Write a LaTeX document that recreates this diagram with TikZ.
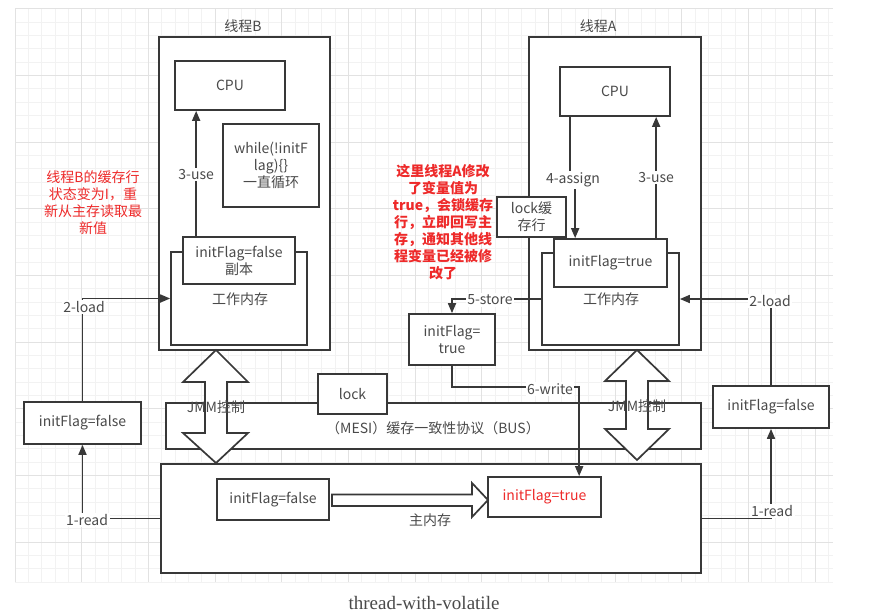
\documentclass[tikz,border=0pt]{standalone}
\usepackage{fontspec}
\setmainfont{Liberation Serif}
\newfontfamily\cjk{Noto Sans CJK SC}
\usetikzlibrary{arrows.meta,calc}
\definecolor{linec}{HTML}{383838}
\definecolor{textc}{HTML}{4A4A4A}
\definecolor{redc}{HTML}{EE2A2A}
\definecolor{gridminor}{HTML}{F2F2F2}
\definecolor{gridmajor}{HTML}{E2E2E2}
\tikzset{
  box/.style={draw=linec, line width=1.7pt, fill=white, inner sep=2pt, align=center,
    font=\cjk\fontsize{14}{17}\selectfont, text=textc},
  lbl/.style={font=\cjk\fontsize{14}{17}\selectfont, text=textc, inner sep=1.5pt, align=center},
  wlbl/.style={lbl, fill=white},
  conn/.style={draw=linec, line width=1.7pt, -{Triangle[length=10pt,width=8pt]}},
  plain/.style={draw=linec, line width=1.7pt},
  blockarrow/.style={draw=linec, line width=1.7pt, fill=white, line join=miter},
  redtxt/.style={font=\cjk\fontsize{14}{17}\selectfont, text=redc, align=center, inner sep=0pt},
}
\begin{document}
\begin{tikzpicture}[x=1pt,y=-1pt]
\useasboundingbox (0,0) rectangle (894,614);
\fill[white] (0,0) rectangle (894,614);
% grid
\foreach \i in {0,...,61} {
  \draw[gridminor, line width=0.6pt] ({15+\i*13.333},9) -- ({15+\i*13.333},582);
}
\foreach \j in {0,...,43} {
  \draw[gridminor, line width=0.6pt] (15,{8.67+\j*13.333}) -- (833,{8.67+\j*13.333});
}
\foreach \i in {0,...,12} {
  \draw[gridmajor, line width=0.8pt] ({15+\i*66.667},9) -- ({15+\i*66.667},582);
}
\foreach \j in {0,...,8} {
  \draw[gridmajor, line width=0.8pt] (15,{8.67+\j*66.667}) -- (833,{8.67+\j*66.667});
}

% ---------- Thread B ----------
\node[lbl] (titleB) at (243,26) {线程B};
\node[box, minimum width=171pt, minimum height=313pt] (threadB) at (244.5,193.5) {};
\node[box, minimum width=110pt, minimum height=49pt] (cpuB) at (230,85.5) {CPU};
\node[box, minimum width=96pt, minimum height=83pt] (whileB) at (271,165.5) {while(!initF\\lag)\{\}\\一直循环};
\node[box, minimum width=136pt, minimum height=93pt] (workB) at (239,298.5) {};
\node[lbl] (workBtxt) at (240,299) {工作内存};
\node[box, minimum width=112pt, minimum height=47pt] (initB) at (239,260.5) {initFlag=false\\副本};

% ---------- Thread A ----------
\node[lbl] (titleA) at (598,26) {线程A};
\node[box, minimum width=172pt, minimum height=313pt] (threadA) at (615,193.5) {};
\node[box, minimum width=110pt, minimum height=49pt] (cpuA) at (615,91.5) {CPU};
\node[box, minimum width=137pt, minimum height=92pt] (workA) at (610.5,299) {};
\node[lbl] (workAtxt) at (611,299) {工作内存};
\node[box, minimum width=113pt, minimum height=48pt] (initA) at (610.5,263) {initFlag=true};
\node[box, minimum width=69pt, minimum height=40pt] (lockA) at (531.5,217) {lock缓\\存行};

% ---------- side boxes ----------
\node[box, minimum width=117pt, minimum height=42pt] (leftFalse) at (82.5,423) {initFlag=false};
\node[box, minimum width=116pt, minimum height=42pt] (rightFalse) at (771,407) {initFlag=false};
\node[box, minimum width=86pt, minimum height=51pt] (midTrue) at (452,339.5) {initFlag=\\true};

% ---------- bus & main memory ----------
\node[box, minimum width=535pt, minimum height=46pt] (bus) at (433.5,426) {};
\node[lbl] (bustxt) at (433,428) {（MESI）缓存一致性协议（BUS）};
\node[box, minimum width=69pt, minimum height=40pt] (lockBus) at (352.5,394) {lock};
\node[box, minimum width=540pt, minimum height=109pt] (mainMem) at (431,518.5) {};
\node[lbl] (maintxt) at (430,520) {主内存};
\node[box, minimum width=112pt, minimum height=41pt] (mainFalse) at (273,499.5) {initFlag=false};
\node[box, minimum width=113pt, minimum height=40pt, text=redc] (mainTrue) at (544.5,497) {initFlag=true};

% block arrow false -> true
\draw[blockarrow] (332,494.5) -- (472,494.5) -- (472,483) -- (488,500) -- (472,517) -- (472,506) -- (332,506) -- cycle;

% JMM double arrows
\draw[blockarrow] (216,350) -- (248,382) -- (227,382) -- (227,433) -- (248,433) -- (216,463)
  -- (183,433) -- (205,433) -- (205,382) -- (183,382) -- cycle;
\draw[blockarrow] (637,350) -- (669,381) -- (648,381) -- (648,429) -- (669,429) -- (637,460)
  -- (605,429) -- (626,429) -- (626,381) -- (605,381) -- cycle;
\node[lbl] (jmmL) at (216,407) {JMM控制};
\node[lbl] (jmmR) at (637,406) {JMM控制};

% ---------- connectors ----------
% 3-use B
\draw[conn] ([xshift=14pt]initB.north west) -- ([xshift=14pt]initB.north west |- cpuB.south)
  node[wlbl, pos=0.49] {3-use};
% 4-assign A
\coordinate (bendA) at (573,180);
\draw[conn] ([xshift=11pt]cpuA.south west) |- (bendA) -| ([xshift=22pt]initA.north west);
\node[wlbl] (assignlbl) at (bendA) {4-assign};
% 3-use A
\draw[conn] ([xshift=103pt]initA.north west) -- ([xshift=103pt]initA.north west |- cpuA.south)
  node[wlbl, pos=0.5] {3-use};
% 2-load left
\draw[conn] (leftFalse.north) |- (workB.west);
\node[wlbl] (load2L) at (84,307) {2-load};
% 1-read left
\draw[conn] (mainMem.west) -| (leftFalse.south);
\node[wlbl] (read1L) at (87,520) {1-read};
% 2-load right
\draw[conn] (rightFalse.north) |- (workA.east);
\node[wlbl] (load2R) at (770,301) {2-load};
% 1-read right
\draw[conn] (mainMem.east) -| (rightFalse.south);
\node[wlbl] (read1R) at (772,511) {1-read};
% 5-store
\draw[conn] (workA.west) -| (midTrue.north);
\node[wlbl] (store5) at (490,300) {5-store};
% 6-write
\coordinate (wbend) at (550,387);
\draw[conn] (midTrue.south) |- (wbend) -| ([xshift=92pt]mainTrue.north west);
\node[wlbl] (write6) at (550,389) {6-write};

% ---------- red notes ----------
\node[redtxt] (noteB) at (93,202.5) {线程B的缓存行\\状态变为I，重\\新从主存读取最\\新值};
\node[redtxt, font=\cjk\bfseries\fontsize{14}{17}\selectfont] (noteA) at (443,222.5)
  {这里线程A修改\\了变量值为\\true，会锁缓存\\行，立即回写主\\存，通知其他线\\程变量已经被修\\改了};

% caption
\node[font=\fontsize{19}{22}\selectfont, text=textc, inner sep=0pt] (caption) at (424,603) {thread-with-volatile};
\end{tikzpicture}
\end{document}
